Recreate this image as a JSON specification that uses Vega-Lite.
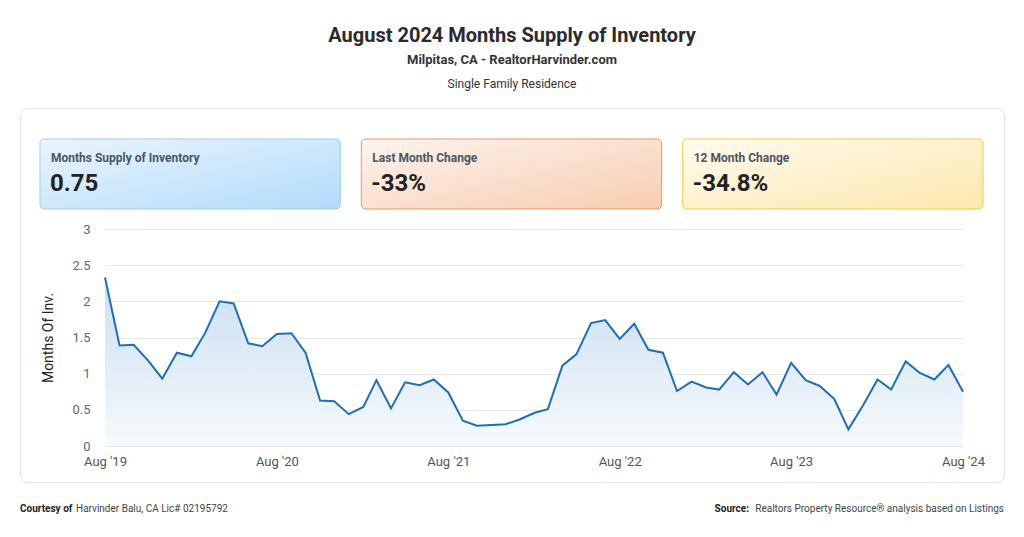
{
  "$schema": "https://vega.github.io/schema/vega-lite/v6.json",
  "width": 984,
  "height": 374,
  "autosize": {"type": "none"},
  "padding": {"left": 20, "top": 108, "right": 20, "bottom": 55},
  "background": "white",
  "config": {
    "font": "Roboto",
    "view": {"stroke": "#dfe5ea", "strokeWidth": 1, "cornerRadius": 8, "fill": "white"}
  },
  "title": {
    "text": "August 2024 Months Supply of Inventory",
    "subtitle": "Milpitas, CA - RealtorHarvinder.com",
    "anchor": "middle",
    "frame": "group",
    "fontSize": 20,
    "fontWeight": "bold",
    "color": "#2b2b2b",
    "subtitleFontSize": 13,
    "subtitleFontWeight": "bold",
    "subtitleColor": "#333333",
    "subtitlePadding": 8,
    "offset": 10
  },
  "datasets": {
    "mos": [
      {"date": "2019/08/01", "v": 2.33}, {"date": "2019/09/01", "v": 1.39}, {"date": "2019/10/01", "v": 1.40},
      {"date": "2019/11/01", "v": 1.18}, {"date": "2019/12/01", "v": 0.93}, {"date": "2020/01/01", "v": 1.29},
      {"date": "2020/02/01", "v": 1.24}, {"date": "2020/03/01", "v": 1.56}, {"date": "2020/04/01", "v": 2.00},
      {"date": "2020/05/01", "v": 1.97}, {"date": "2020/06/01", "v": 1.42}, {"date": "2020/07/01", "v": 1.38},
      {"date": "2020/08/01", "v": 1.55}, {"date": "2020/09/01", "v": 1.56}, {"date": "2020/10/01", "v": 1.29},
      {"date": "2020/11/01", "v": 0.63}, {"date": "2020/12/01", "v": 0.62}, {"date": "2021/01/01", "v": 0.44},
      {"date": "2021/02/01", "v": 0.54}, {"date": "2021/03/01", "v": 0.91}, {"date": "2021/04/01", "v": 0.52},
      {"date": "2021/05/01", "v": 0.88}, {"date": "2021/06/01", "v": 0.84}, {"date": "2021/07/01", "v": 0.92},
      {"date": "2021/08/01", "v": 0.74}, {"date": "2021/09/01", "v": 0.35}, {"date": "2021/10/01", "v": 0.28},
      {"date": "2021/11/01", "v": 0.29}, {"date": "2021/12/01", "v": 0.30}, {"date": "2022/01/01", "v": 0.37},
      {"date": "2022/02/01", "v": 0.46}, {"date": "2022/03/01", "v": 0.51}, {"date": "2022/04/01", "v": 1.11},
      {"date": "2022/05/01", "v": 1.27}, {"date": "2022/06/01", "v": 1.70}, {"date": "2022/07/01", "v": 1.74},
      {"date": "2022/08/01", "v": 1.48}, {"date": "2022/09/01", "v": 1.69}, {"date": "2022/10/01", "v": 1.33},
      {"date": "2022/11/01", "v": 1.29}, {"date": "2022/12/01", "v": 0.76}, {"date": "2023/01/01", "v": 0.89},
      {"date": "2023/02/01", "v": 0.81}, {"date": "2023/03/01", "v": 0.78}, {"date": "2023/04/01", "v": 1.02},
      {"date": "2023/05/01", "v": 0.85}, {"date": "2023/06/01", "v": 1.02}, {"date": "2023/07/01", "v": 0.71},
      {"date": "2023/08/01", "v": 1.15}, {"date": "2023/09/01", "v": 0.91}, {"date": "2023/10/01", "v": 0.83},
      {"date": "2023/11/01", "v": 0.65}, {"date": "2023/12/01", "v": 0.23}, {"date": "2024/01/01", "v": 0.56},
      {"date": "2024/02/01", "v": 0.92}, {"date": "2024/03/01", "v": 0.78}, {"date": "2024/04/01", "v": 1.17},
      {"date": "2024/05/01", "v": 1.01}, {"date": "2024/06/01", "v": 0.92}, {"date": "2024/07/01", "v": 1.12},
      {"date": "2024/08/01", "v": 0.75}
    ],
    "cards": [
      {"card": "Months Supply of Inventory", "value": "0.75"},
      {"card": "Last Month Change", "value": "-33%"},
      {"card": "12 Month Change", "value": "-34.8%"}
    ]
  },
  "layer": [
    {
      "data": {"name": "mos"},
      "encoding": {
        "x": {
          "field": "date",
          "type": "temporal",
          "scale": {
            "domain": [{"year": 2019, "month": 8, "date": 1}, {"year": 2024, "month": 8, "date": 1}],
            "range": [85, 943]
          },
          "axis": {
            "values": [
              {"year": 2019, "month": 8, "date": 1}, {"year": 2020, "month": 8, "date": 1},
              {"year": 2021, "month": 8, "date": 1}, {"year": 2022, "month": 8, "date": 1},
              {"year": 2023, "month": 8, "date": 1}, {"year": 2024, "month": 8, "date": 1}
            ],
            "format": "%b '%y",
            "grid": false,
            "domain": false,
            "ticks": false,
            "labelFlush": false,
            "labelOverlap": false,
            "labelPadding": 9,
            "labelFontSize": 13,
            "labelColor": "#555555",
            "offset": -36,
            "title": null
          }
        },
        "y": {
          "field": "v",
          "type": "quantitative",
          "scale": {"domain": [0, 3], "range": [338, 121], "nice": false, "zero": true},
          "axis": {
            "values": [0, 0.5, 1, 1.5, 2, 2.5, 3],
            "format": "~g",
            "offset": -85,
            "domain": false,
            "ticks": false,
            "labelPadding": 15,
            "labelFontSize": 13,
            "labelColor": "#666666",
            "title": "Months Of Inv.",
            "titleFontSize": 14,
            "titleFontWeight": "normal",
            "titleColor": "#222222",
            "titlePadding": 16,
            "grid": true,
            "gridColor": "#e6e9ec"
          }
        }
      },
      "layer": [
        {
          "mark": {
            "type": "area",
            "fill": {
              "gradient": "linear", "x1": 0, "y1": 0, "x2": 0, "y2": 1,
              "stops": [{"offset": 0, "color": "#c9def1"}, {"offset": 1, "color": "#f7fafd"}]
            }
          }
        },
        {"mark": {"type": "line", "color": "#1f6fb2", "strokeWidth": 2}}
      ]
    },
    {
      "data": {"name": "cards"},
      "encoding": {
        "x": {
          "field": "card",
          "type": "nominal",
          "sort": null,
          "scale": {"range": [20, 963], "paddingInner": 0.0654, "paddingOuter": 0},
          "axis": {
            "orient": "top",
            "labels": false,
            "ticks": false,
            "domain": false,
            "grid": false,
            "title": "Single Family Residence",
            "titleFontSize": 12,
            "titleFontWeight": "normal",
            "titleColor": "#333333",
            "titlePadding": 18
          }
        }
      },
      "layer": [
        {
          "transform": [{"filter": "datum.card === 'Months Supply of Inventory'"}],
          "mark": {
            "type": "rect", "cornerRadius": 4, "stroke": "#9ccff2", "strokeWidth": 1,
            "fill": {
              "gradient": "linear", "x1": 0, "y1": 0, "x2": 1, "y2": 1,
              "stops": [{"offset": 0, "color": "#eaf5fd"}, {"offset": 1, "color": "#b2dbfa"}]
            }
          },
          "encoding": {
            "y": {"datum": 0, "type": "quantitative", "scale": {"domain": [0, 1], "range": [101, 31], "nice": false, "zero": false}, "axis": null},
            "y2": {"datum": 1}
          }
        },
        {
          "transform": [{"filter": "datum.card === 'Last Month Change'"}],
          "mark": {
            "type": "rect", "cornerRadius": 4, "stroke": "#e7975f", "strokeWidth": 1,
            "fill": {
              "gradient": "linear", "x1": 0, "y1": 0, "x2": 1, "y2": 1,
              "stops": [{"offset": 0, "color": "#fdf4ee"}, {"offset": 1, "color": "#f7cdb0"}]
            }
          },
          "encoding": {
            "y": {"datum": 0, "type": "quantitative"},
            "y2": {"datum": 1}
          }
        },
        {
          "transform": [{"filter": "datum.card === '12 Month Change'"}],
          "mark": {
            "type": "rect", "cornerRadius": 4, "stroke": "#f1c94a", "strokeWidth": 1,
            "fill": {
              "gradient": "linear", "x1": 0, "y1": 0, "x2": 1, "y2": 1,
              "stops": [{"offset": 0, "color": "#fffbef"}, {"offset": 1, "color": "#fde7ad"}]
            }
          },
          "encoding": {
            "y": {"datum": 0, "type": "quantitative"},
            "y2": {"datum": 1}
          }
        },
        {
          "mark": {"type": "text", "align": "left", "baseline": "middle", "dx": 11, "fontSize": 12, "fontWeight": "bold", "color": "#4b5563"},
          "encoding": {
            "x": {"field": "card", "type": "nominal", "bandPosition": 0},
            "y": {"datum": 0.7286, "type": "quantitative"},
            "text": {"field": "card"}
          }
        },
        {
          "mark": {"type": "text", "align": "left", "baseline": "middle", "dx": 10, "fontSize": 24, "fontWeight": "bold", "color": "#222222"},
          "encoding": {
            "x": {"field": "card", "type": "nominal", "bandPosition": 0},
            "y": {"datum": 0.357, "type": "quantitative"},
            "text": {"field": "value"}
          }
        }
      ]
    },
    {
      "data": {"values": [{"t": "Courtesy of"}]},
      "mark": {"type": "text", "align": "left", "baseline": "middle", "dy": 27, "fontSize": 10, "fontWeight": "bold", "color": "#222222"},
      "encoding": {"x": {"value": 0}, "y": {"value": "height"}, "text": {"field": "t"}}
    },
    {
      "data": {"values": [{"t": "Harvinder Balu, CA Lic# 02195792"}]},
      "mark": {"type": "text", "align": "left", "baseline": "middle", "dx": 56, "dy": 27, "fontSize": 10, "color": "#444444"},
      "encoding": {"x": {"value": 0}, "y": {"value": "height"}, "text": {"field": "t"}}
    },
    {
      "data": {"values": [{"t": "Realtors Property Resource® analysis based on Listings"}]},
      "mark": {"type": "text", "align": "right", "baseline": "middle", "dy": 27, "fontSize": 10, "color": "#444444"},
      "encoding": {"x": {"value": "width"}, "y": {"value": "height"}, "text": {"field": "t"}}
    },
    {
      "data": {"values": [{"t": "Source:"}]},
      "mark": {"type": "text", "align": "right", "baseline": "middle", "dx": -255, "dy": 27, "fontSize": 10, "fontWeight": "bold", "color": "#222222"},
      "encoding": {"x": {"value": "width"}, "y": {"value": "height"}, "text": {"field": "t"}}
    }
  ],
  "resolve": {"scale": {"x": "independent", "y": "independent"}}
}
